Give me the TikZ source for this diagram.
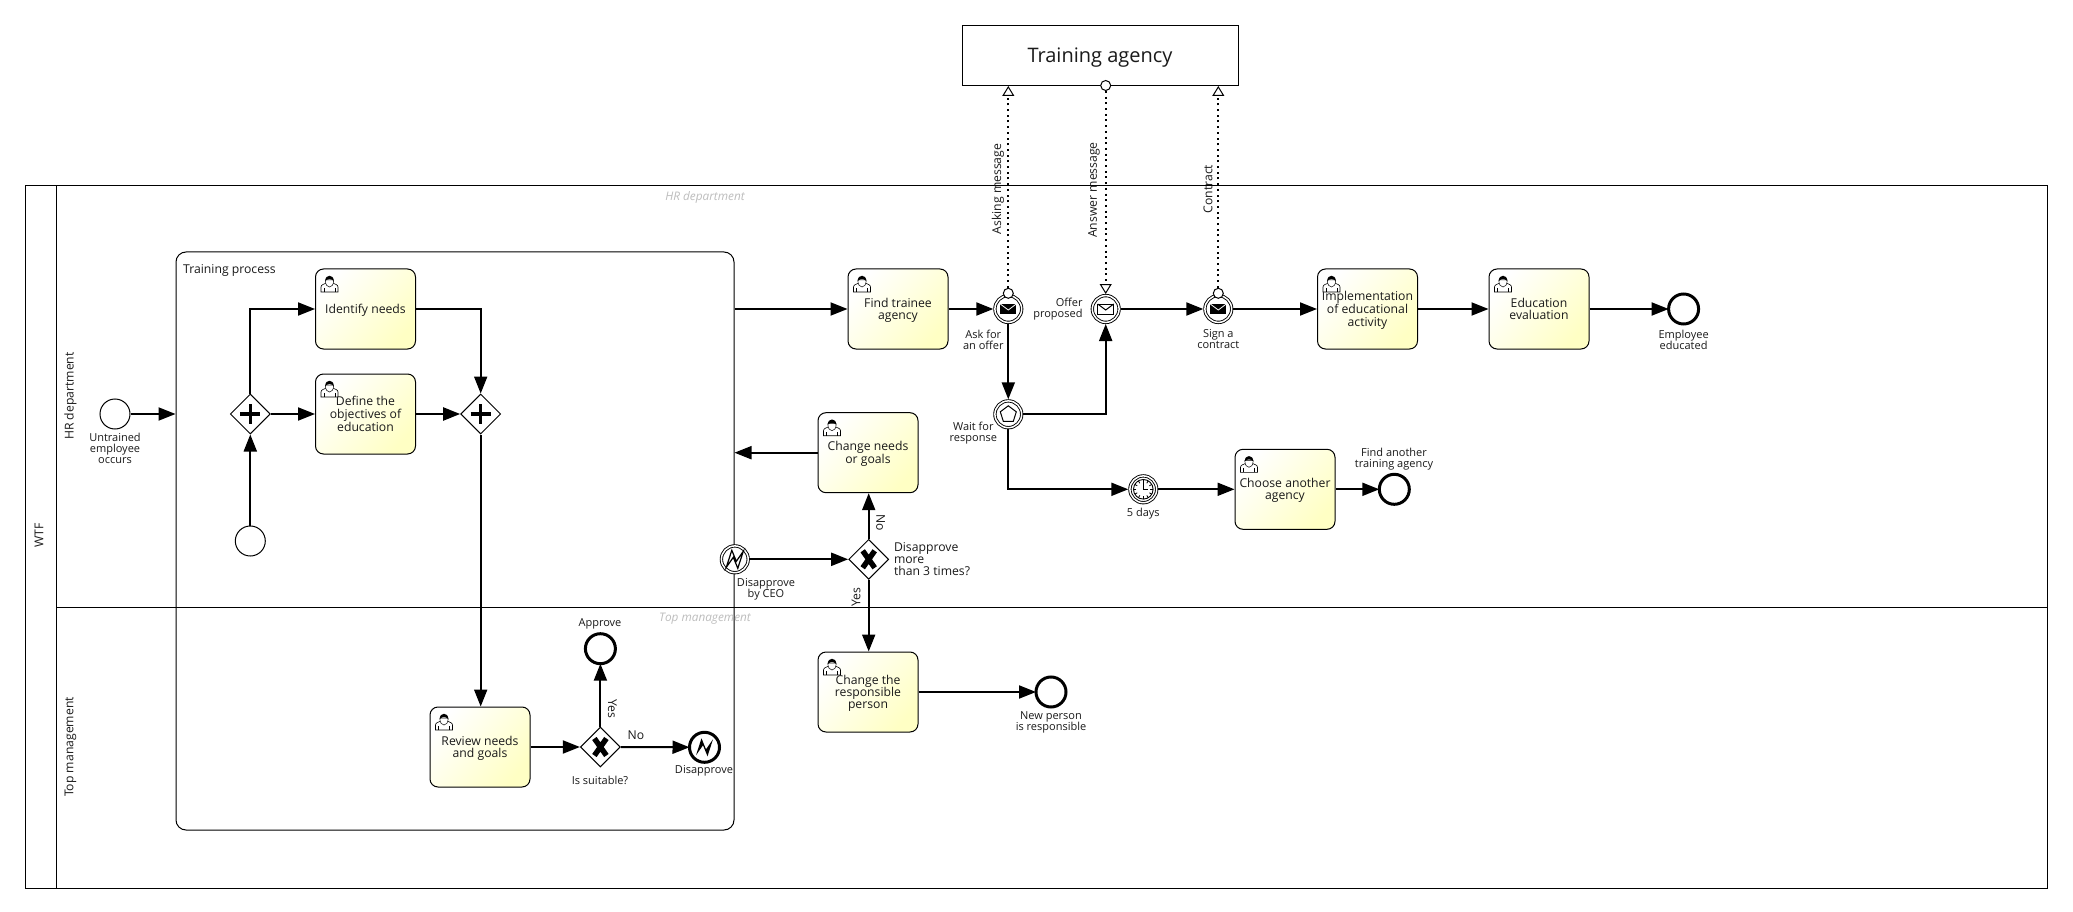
\documentclass[tikz,border=0pt]{standalone}
\usepackage{fontspec}
\setmainfont{Open Sans}
\usetikzlibrary{arrows.meta,shapes.geometric}
\definecolor{ink}{HTML}{1A1A1A}
\definecolor{taskyellow}{HTML}{FFFFC4}
\definecolor{ghost}{HTML}{BDBDBD}
\newcommand{\tasktext}[1]{\raisebox{-1.7pt}[\height][\depth]{\begin{tabular}{@{}c@{}}#1\end{tabular}}}
\tikzset{
  flow/.style={line width=2pt,-{Triangle[length=17pt,width=13pt]}},
  msgin/.style={line width=2.2pt,dash pattern=on 2pt off 3.7pt,-{Triangle[open,length=10pt,width=12pt,line width=1pt,fill=white]}},
  task/.style={draw=black,line width=1pt,rounded corners=8pt,minimum width=100pt,minimum height=80pt,inner sep=0pt,
    align=center,text=ink,font=\fontsize{12.2}{12}\selectfont,shading=axis,left color=white,right color=taskyellow,shading angle=50},
  gate/.style={draw=black,line width=1pt,fill=white,diamond,aspect=1,minimum width=40pt,minimum height=40pt,inner sep=0pt},
  startev/.style={draw=black,line width=1pt,fill=white,circle,minimum size=30pt,inner sep=0pt},
  endev/.style={draw=black,line width=3pt,fill=white,circle,minimum size=30pt,inner sep=0pt,outer sep=0pt},
  midev/.style={draw=black,line width=.9pt,double=white,double distance=1.5pt,fill=white,circle,minimum size=26.8pt,inner sep=0pt,outer sep=1.6pt},
  dotc/.style={draw=black,line width=1pt,fill=white,circle,minimum size=10pt,inner sep=0pt},
  lab/.style={align=center,text=ink,inner sep=0pt,yshift=-1pt,font=\fontsize{11}{11}\selectfont},
  flab/.style={align=center,text=ink,inner sep=0pt,font=\fontsize{12.2}{12}\selectfont},
  ghostlab/.style={text=ghost,inner sep=0pt,font=\fontsize{11.8}{12}\selectfont\itshape},
  userpic/.pic={
    \path[draw=black,line width=.6pt,fill=white] (-8.5,9) -- (-8.5,4) .. controls (-8.5,1.5) and (-5,1) .. (-3,0) -- (3,0) .. controls (5,1) and (8.5,1.5) .. (8.5,4) -- (8.5,9) -- cycle;
    \path[draw=black,line width=.5pt,fill=white] (-4.2,-3) .. controls (-4.2,2) and (-2,4) .. (0,4) .. controls (2,4) and (4.2,2) .. (4.2,-3) -- cycle;
    \path[fill=black] (-4.2,-2) .. controls (-4.5,-9) and (4.5,-9) .. (4.2,-2) .. controls (2,-4.5) and (-2,-4.5) .. (-4.2,-2) -- cycle;
    \draw[line width=.5pt] (-5.5,9) -- (-5.5,5) (5.5,9) -- (5.5,5);
  },
  plusmark/.pic={\draw[line width=3.5pt] (-10,0) -- (10,0) (0,-10) -- (0,10);},
  xmark/.pic={\draw[line width=5.4pt] (-6,-8.5) -- (6,8.5) (-6,8.5) -- (6,-8.5);},
  mailfill/.pic={\path[fill=black] (-8,-5) rectangle (8,5);\draw[white,line width=.8pt] (-8,-5) -- (0,1) -- (8,-5);},
  mailopen/.pic={\draw[line width=1pt,fill=white] (-8,-5) rectangle (8,5);\draw[line width=1pt] (-8,-5) -- (0,1) -- (8,-5);},
  pentamark/.pic={\draw[line width=1pt] (0,-8.5) -- (8,-2.5) -- (5,7) -- (-5,7) -- (-8,-2.5) -- cycle;},
  boltopen/.pic={\draw[line width=1.2pt,line join=miter] (-8.5,8) -- (-3,-9) -- (1.5,2) -- (8.5,-8) -- (3,9) -- (-1.5,-2) -- cycle;},
  boltfill/.pic={\path[fill=black] (-8.5,8) -- (-3,-9) -- (1.5,2) -- (8.5,-8) -- (3,9) -- (-1.5,-2) -- cycle;},
  clockmark/.pic={
    \draw[line width=.9pt] (0,0) circle (9.8pt);
    \foreach \a in {0,30,...,330}{\draw[line width=.8pt] (\a:7pt) -- (\a:9.8pt);}
    \draw[line width=1.1pt] (0,-7) -- (0,0) -- (5,0);
  },
}
\begin{document}
\begin{tikzpicture}[x=1pt,y=-1pt]
\path[use as bounding box,fill=white] (0,0) rectangle (2073,912);

% pool and lanes
\node[draw=black,line width=1pt,minimum width=2022pt,minimum height=702pt,inner sep=0pt] (pool) at (1036,537) {};
\coordinate (hdrtop) at (56,186);
\coordinate (hdrbot) at (56,888);
\draw[line width=1pt] (hdrtop) -- (hdrbot);

% sub-process
\node[draw=black,line width=1pt,rounded corners=10pt,minimum width=558pt,minimum height=578pt,inner sep=0pt] (sub) at (455,541) {};
\node[flab,anchor=west] (subt) at (183,270) {Training process};

% lane divider
\coordinate (laneL) at (56,607.5);
\coordinate (laneR) at (2047,607.5);
\draw[line width=1pt] (laneL) -- (laneR);

\node[flab,rotate=90] (wtf) at (39,535.5) {WTF};
\node[flab,rotate=90] (hrl) at (70.5,396) {HR department};
\node[flab,rotate=90] (tml) at (70.5,747) {Top management};
\node[ghostlab] (hrg) at (705,197) {HR department};
\node[ghostlab] (tmg) at (705,619) {Top management};

% agency
\node[draw=black,line width=1pt,fill=white,minimum width=276pt,minimum height=60pt,inner sep=0pt,text=ink,font=\fontsize{20}{24}\selectfont] (agency) at (1100,55.5) {\raisebox{-2pt}[\height][\depth]{Training agency}};
\node[dotc] (agdot) at (1105.7,85.5) {};

% tasks
\node[task] (identify) at (365.5,309) {\tasktext{Identify needs}};
\node[task] (define) at (365.5,414) {\tasktext{Define the\\objectives of\\education}};
\node[task] (review) at (480,747) {\tasktext{Review needs\\and goals}};
\node[task] (find) at (898,309) {\tasktext{Find trainee\\agency}};
\node[task] (chneeds) at (868,452.7) {\tasktext{Change needs\\or goals}};
\node[task] (chresp) at (868,692) {\tasktext{Change the\\responsible\\person}};
\node[task] (choose) at (1285,489.3) {\tasktext{Choose another\\agency}};
\node[task] (impl) at (1367.5,309) {\tasktext{Implementation\\of educational\\activity}};
\node[task] (evalu) at (1539,309) {\tasktext{Education\\evaluation}};
\foreach \t in {identify,define,review,find,chneeds,chresp,choose,impl,evalu}{
  \pic at ([xshift=14.5pt,yshift=-14.5pt]\t.north west) {userpic};
}

% gateways
\node[gate] (g1) at (250.3,414) {};
\node[gate] (g2) at (480.7,414) {};
\node[gate] (g3) at (600.4,747) {};
\node[gate] (g4) at (868.7,559.3) {};
\pic at (g1) {plusmark};
\pic at (g2) {plusmark};
\pic at (g3) {xmark};
\pic at (g4) {xmark};

% events
\node[startev] (s0) at (115,414) {};
\node[startev] (s1) at (250.3,541) {};
\node[endev] (eapprove) at (600.4,648.7) {};
\node[endev] (edis) at (704.5,747.3) {};
\pic at (edis) {boltfill};
\node[midev] (bdis) at (734.8,559.3) {};
\pic at (bdis) {boltopen};
\node[endev] (enew) at (1051,692) {};
\node[midev] (ask) at (1008.3,309) {};
\pic at (ask) {mailfill};
\node[midev] (offer) at (1105.7,309) {};
\pic at (offer) {mailopen};
\node[midev] (sign) at (1218.3,309) {};
\pic at (sign) {mailfill};
\node[midev] (wait) at (1008.3,414.3) {};
\pic at (wait) {pentamark};
\node[midev] (timer) at (1143.3,489.3) {};
\pic at (timer) {clockmark};
\node[endev] (efind) at (1394.3,489.3) {};
\node[endev] (eemp) at (1683.6,309) {};

% sequence flows
\draw[flow] (s0) -- (s0 -| sub.west);
\draw[flow] (g1) -- (define);
\draw[flow] (g1.north) |- (identify.west);
\draw[flow] (s1) -- (g1);
\draw[flow] (identify.east) -| (g2.north);
\draw[flow] (define) -- (g2);
\draw[flow] (g2.south) -- (review.north -| g2.south);
\draw[flow] (review) -- (g3);
\draw[flow] (g3) -- (eapprove);
\draw[flow] (g3) -- (edis);
\draw[flow] (bdis) -- (g4);
\draw[flow] (g4.north) -- (chneeds.south -| g4.north);
\draw[flow] (g4.south) -- (chresp.north -| g4.south);
\draw[flow] (chneeds.west) -- (chneeds.west -| sub.east);
\draw[flow] (chresp) -- (enew);
\draw[flow] (find.west -| sub.east) -- (find.west);
\draw[flow] (find) -- (ask);
\draw[flow] (ask) -- (wait);
\draw[flow] (wait.east) -| (offer.south);
\draw[flow] (offer) -- (sign);
\draw[flow] (sign) -- (impl);
\draw[flow] (impl) -- (evalu);
\draw[flow] (evalu) -- (eemp);
\draw[flow] (wait.south) |- (timer.west);
\draw[flow] (timer) -- (choose);
\draw[flow] (choose) -- (efind);

% message flows
\node[dotc] (askdot) at (1008.3,293.3) {};
\node[dotc] (signdot) at (1218.3,293.3) {};
\draw[msgin] (askdot.north) -- (askdot.north |- agency.south);
\draw[msgin] (signdot.north) -- (signdot.north |- agency.south);
\draw[msgin] (agdot.south) -- (offer.north);

% message labels
\node[flab,rotate=90] (lask) at (998,189) {Asking message};
\node[flab,rotate=90] (lans) at (1094,190) {Answer message};
\node[flab,rotate=90] (lcon) at (1208,189) {Contract};

% labels
\node[lab] (l1) at (115,447.5) {Untrained\\employee\\occurs};
\node[lab] (l2) at (766,588) {Disapprove\\by CEO};
\node[lab] (l3) at (600,779) {Is suitable?};
\node[lab] (l4) at (600,622.5) {Approve};
\node[lab] (l5) at (704,770) {Disapprove};
\node[flab] (l6) at (636,735.5) {No};
\node[flab,rotate=-90] (l7) at (612.5,709) {Yes};
\node[flab,rotate=90] (l8) at (856,597) {Yes};
\node[flab,rotate=-90] (l9) at (880.7,523) {No};
\node[flab,anchor=west,align=left] (l10) at (893.8,559.5) {Disapprove\\more\\than 3 times?};
\node[lab] (l11) at (1051,721) {New person\\is responsible};
\node[lab] (l12) at (983.3,338.5) {Ask for\\an offer};
\node[lab,anchor=east,align=right] (l13) at (1082.7,308.5) {Offer\\proposed};
\node[lab] (l14) at (1218.3,338.5) {Sign a\\contract};
\node[lab] (l15) at (973.3,432.5) {Wait for\\response};
\node[lab] (l16) at (1143.3,513) {5 days};
\node[lab] (l17) at (1394,457.7) {Find another\\training agency};
\node[lab] (l18) at (1683.6,338.5) {Employee\\educated};
\end{tikzpicture}
\end{document}
